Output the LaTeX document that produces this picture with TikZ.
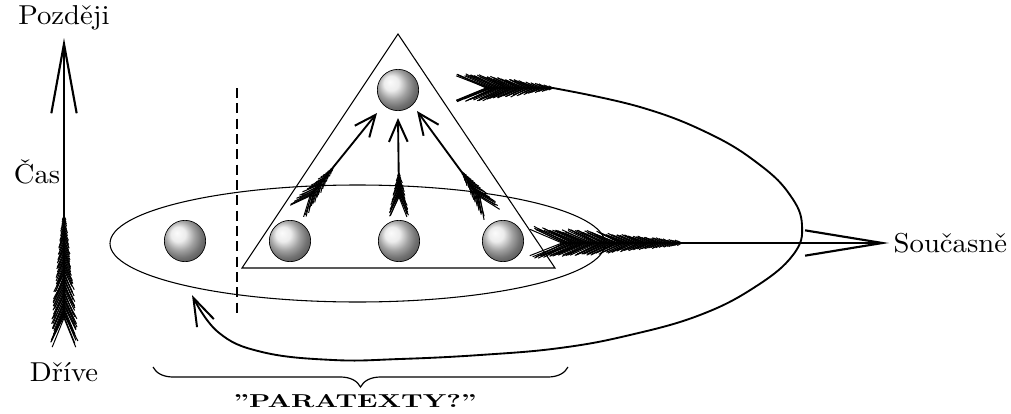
\documentclass[tikz,border=0pt]{standalone}
\usepackage{fontspec}
\usetikzlibrary{arrows.meta, calc, decorations.pathreplacing, positioning}
\newfontfamily\lblfont{lmroman10-regular.otf}[FakeStretch=1.05]
\newfontfamily\parafont{lmroman10-bold.otf}[FakeStretch=1.45]

% opereni sipu: tail, front, max. delka brka (px), pocet kroku
\newcommand\fletch[4]{%
  \coordinate (fb) at ($(#1)!-1!(#2)$);
  \foreach \i in {0,...,#4}{
    \pgfmathsetmacro\s{\i/#4}
    \pgfmathsetlengthmacro\bl{#3*0.75pt*(1-0.45*\s-0.4*\s*\s)*(0.85+0.15*rnd)}
    \pgfmathsetmacro\ba{21+7*rnd}
    \draw[feather] ($(#1)!\s!(#2)$) -- ($(#1)!\s!(#2)!\bl!\ba:(fb)$);
    \pgfmathsetmacro\ba{21+7*rnd}
    \draw[feather] ($(#1)!\s!(#2)$) -- ($(#1)!\s!(#2)!\bl!-\ba:(fb)$);
  }
}

\tikzset{
  sphere/.style={circle, draw=black, line width=0.5pt, minimum size=31pt,
                 inner sep=0pt, ball color=white!80!gray},
  shaft/.style={line width=1.4pt},
  feather/.style={line width=0.75pt},
  thinline/.style={line width=0.8pt},
  lbl/.style={font=\lblfont\fontsize{20.5}{24}\selectfont},
  smallhead/.style={-{Straight Barb[length=16pt,width=14pt,line width=1.5pt]}},
}

\begin{document}
\begin{tikzpicture}[x=0.75pt, y=-0.75pt]
  \useasboundingbox (0,0) rectangle (1011,414);
  \pgfmathsetseed{7}

  % mnozina textu a trojuhelnik
  \draw[thinline] (357.5,243.5) ellipse [x radius=247.5, y radius=58.5];
  \draw[thinline] (398,34) -- (242,268) -- (555,268) -- cycle;
  \draw[thinline, dash pattern=on 7.5pt off 4pt] (237,88) -- (237,315);

  % koule
  \node[sphere] (top) at (398,90) {};
  \node[sphere] (b0) at (185,241) {};
  \node[sphere] (b1) at (290,241) {};
  \node[sphere] (b2) at (399,241) {};
  \node[sphere] (b3) at (503,241) {};

  % osa casu
  \coordinate (timeTail) at (64,318);
  \coordinate (timeFront) at (64,216);
  \coordinate (timeTip) at (64,38);
  \node[lbl] (later) at (64,18) {Později};
  \node[lbl] (earlier) at (64,372) {Dříve};
  \node[lbl] (time) at (37,172) {Čas};
  \fletch{timeTail}{timeFront}{32}{60}
  \draw[shaft, -{Straight Barb[length=52pt,width=19pt,line width=1.6pt]}]
    (timeTail) -- (timeTip);

  % sipy uvnitr trojuhelniku
  \coordinate (lTail) at ($(b1)+(20,-45)$);
  \coordinate (lFront) at ($(b1)+(43,-73)$);
  \coordinate (lTip) at ($(top)+(-21,23)$);
  \coordinate (mTail) at ($(b2)+(0,-44)$);
  \coordinate (mFront) at ($(b2)+(0,-68)$);
  \coordinate (mTip) at ($(top)+(0,28)$);
  \coordinate (rTail) at ($(b3)+(-23,-44)$);
  \coordinate (rFront) at ($(b3)+(-41,-69)$);
  \coordinate (rTip) at ($(top)+(19,21)$);
  \foreach \a in {l,m,r}{
    \fletch{\a Tail}{\a Front}{24}{20}
    \draw[shaft, smallhead] (\a Tail) -- (\a Tip);
  }

  % sipka k soucasnosti
  \node[lbl, anchor=west] (now) at (889,243) {Současně};
  \coordinate (nowTail) at (562,243);
  \coordinate (nowFront) at (682,243);
  \fletch{nowTail}{nowFront}{38}{75}
  \draw[shaft, -{Straight Barb[length=58pt,width=19pt,line width=1.6pt]}]
    (nowTail) -- (now.west);

  % zpetna smycka
  \coordinate (loopTail) at (486,88);
  \coordinate (loopFront) at (553,88);
  \coordinate (loopTip) at ($(b0)+(7,54)$);
  \fletch{loopTail}{loopFront}{36}{45}
  \draw[shaft] (loopTail) -- (loopFront);
  \draw[shaft, -{Straight Barb[length=21pt,width=14pt,line width=1.5pt]}]
    plot[smooth, tension=0.7] coordinates {(553,88) (640,107) (710,134)
      (760,165) (790,195) (802,225) (793,255) (755,287) (700,315) (630,335)
      (560,348) (480,355) (400,359) (333,360) (262,352) (218,332) (loopTip)};

  % slozena zavorka
  \coordinate (braceL) at (153,367);
  \coordinate (braceR) at (568,367);
  \draw[decorate, decoration={brace, mirror, amplitude=15pt}, line width=0.9pt]
    (braceL) -- (braceR);
  \node[font=\parafont\fontsize{14}{16}\selectfont] (para) at (355,401)
    {”PARATEXTY?”};
\end{tikzpicture}
\end{document}
